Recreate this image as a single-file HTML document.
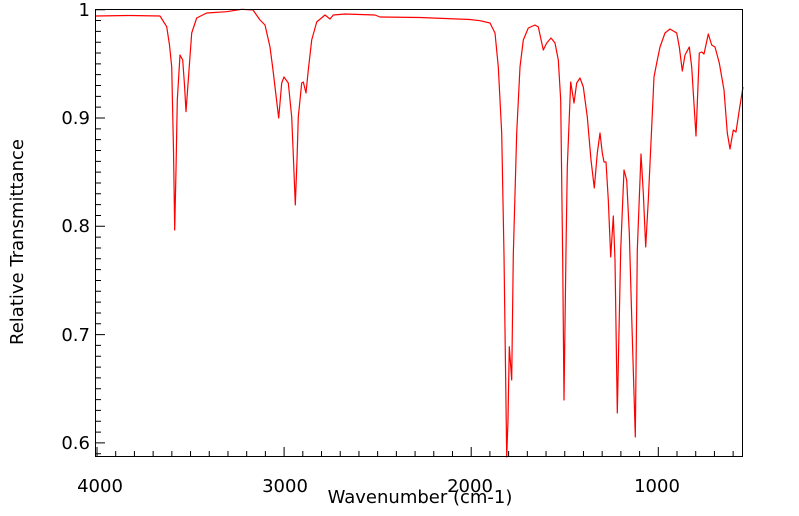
<!DOCTYPE html>
<html><head><meta charset="utf-8"><style>
html,body{margin:0;padding:0;background:#fff;}
svg{display:block;font-family:"DejaVu Sans","Liberation Sans",sans-serif;}
</style></head><body>
<svg width="799" height="516" viewBox="0 0 799 516" xmlns="http://www.w3.org/2000/svg">
<rect x="0" y="0" width="799" height="516" fill="#fff"/>
<path fill="none" stroke="#000" stroke-width="1" d="
M97,456v-9 M115.71,456v-5 M134.42,456v-5 M153.13,456v-5 M171.84,456v-5 M190.55,456v-5 M209.26,456v-5 M227.97,456v-5 M246.68,456v-5 M265.39,456v-5
M284.1,456v-9 M302.81,456v-5 M321.52,456v-5 M340.23,456v-5 M358.94,456v-5 M377.65,456v-5 M396.36,456v-5 M415.07,456v-5 M433.78,456v-5 M452.49,456v-5
M471.2,456v-9 M489.91,456v-5 M508.62,456v-5 M527.33,456v-5 M546.04,456v-5 M564.75,456v-5 M583.46,456v-5 M602.17,456v-5 M620.88,456v-5 M639.59,456v-5
M658.3,456v-9 M677.01,456v-5 M695.72,456v-5 M714.43,456v-5 M733.14,456v-5
M96,9.7h9 M96,20.53h5 M96,31.36h5 M96,42.19h5 M96,53.02h5 M96,63.85h5 M96,74.68h5 M96,85.51h5 M96,96.34h5 M96,107.17h5
M96,118h9 M96,128.83h5 M96,139.66h5 M96,150.49h5 M96,161.32h5 M96,172.15h5 M96,182.98h5 M96,193.81h5 M96,204.64h5 M96,215.47h5
M96,226.3h9 M96,237.13h5 M96,247.96h5 M96,258.79h5 M96,269.62h5 M96,280.45h5 M96,291.28h5 M96,302.11h5 M96,312.94h5 M96,323.77h5
M96,334.6h9 M96,345.43h5 M96,356.26h5 M96,367.09h5 M96,377.92h5 M96,388.75h5 M96,399.58h5 M96,410.41h5 M96,421.24h5 M96,432.07h5
M96,442.9h9 M96,453.73h5"/>
<path fill="none" stroke="#ff0000" stroke-width="1.2" stroke-linejoin="round" d="M96,16 L130,15.5 L160,16 L166.7,26.7 L169.5,45 L171.7,66.7 L173.5,150 L174.7,230 L176,170 L177.3,100 L180,55 L182.7,60 L184.5,85 L186,111.7 L188.3,80 L191.7,33 L196.7,18 L206.7,13 L226.7,11.7 L241.7,9.3 L253,10 L260,20 L265,25 L270,47 L273,70 L275,87 L278.7,118 L281.7,83 L284,77 L288.3,83 L291.7,117 L293.5,160 L295.3,205 L297,160 L298.3,117 L301.7,83 L303.3,82 L306,93 L308.3,70 L311.7,40 L316.7,22 L325,15 L330,19 L333.3,15 L345,14 L375,15 L380,17 L420,17.5 L470,19.5 L480,20.7 L490,23 L495,33 L498.3,67 L501.7,133 L504,255 L506.7,457 L508,420 L509.3,346.7 L511.7,380 L513.3,255 L516.7,133 L520,67 L523.3,40 L528.3,28 L535,25 L538.3,27 L543.3,50 L546.7,43 L551,38 L555,43 L558.3,60 L560.7,100 L562.7,260 L564,400 L566,250 L567.3,167 L570.7,82 L574,103 L576.7,83 L580,78 L583.3,87 L587.3,117 L591,160 L594.3,188 L597.3,153 L600,133 L602.3,153 L604,162 L606,162 L608.3,200 L610.7,257 L613.3,216 L615,260 L617.3,413 L620.7,250 L624,170 L626.7,180 L629.3,233 L631.7,317 L635.3,437 L637.3,250 L641,154 L643.3,193 L645.7,247 L648.3,200 L651.7,127 L654,77 L656.7,63 L660,47 L665,33 L670,29 L676.7,33 L679.3,47 L682.3,71 L685,55 L689.3,47 L691.7,67 L696,136 L699.3,53 L701.7,52 L704,54 L708.3,34 L711.7,45 L715,47 L719.3,63 L724,90 L727.3,133 L730,149 L733.3,130 L736,132 L739.3,110 L743,87"/>
<rect x="95.5" y="9.5" width="647" height="447" fill="none" stroke="#000" stroke-width="1"/>
<g font-size="18" fill="#000" text-anchor="end">
<text x="90" y="16">1</text>
<text x="90" y="124">0.9</text>
<text x="90" y="232">0.8</text>
<text x="90" y="341">0.7</text>
<text x="90" y="449">0.6</text>
</g>
<g font-size="18" fill="#000" text-anchor="middle">
<text x="100" y="492">4000</text>
<text x="285" y="492">3000</text>
<text x="470" y="492">2000</text>
<text x="657" y="492">1000</text>
<text x="420" y="503">Wavenumber (cm-1)</text>
<text transform="translate(23,242) rotate(-90)">Relative Transmittance</text>
</g>
</svg>
</body></html>
